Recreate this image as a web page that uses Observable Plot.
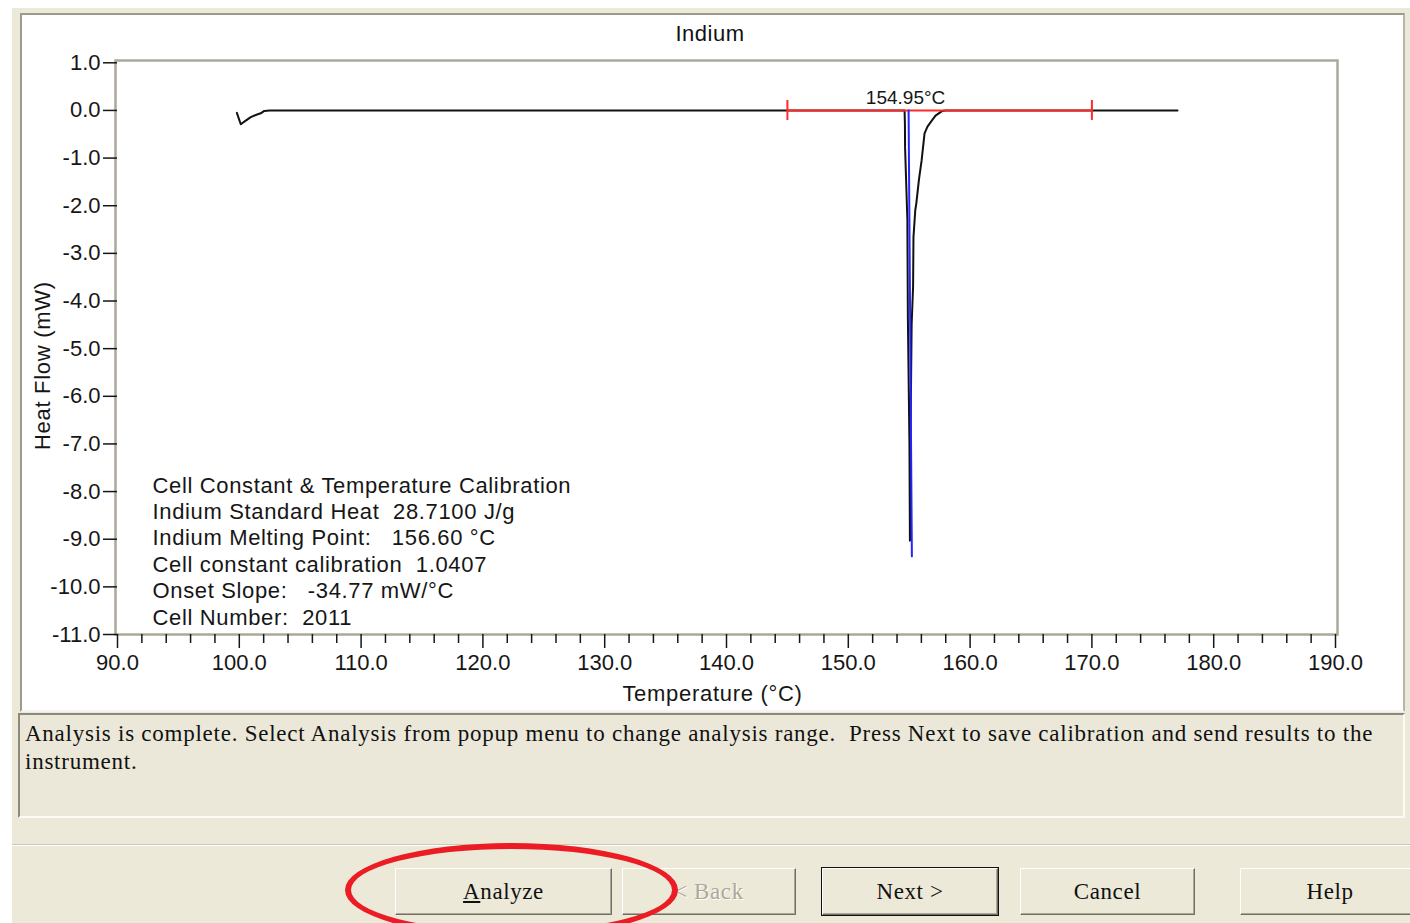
<!DOCTYPE html>
<html>
<head>
<meta charset="utf-8">
<script src="https://cdn.jsdelivr.net/npm/d3@7"></script>
<script src="https://cdn.jsdelivr.net/npm/@observablehq/plot@0.6"></script>
<style>
  html, body { margin: 0; padding: 0; }
  body { width: 1410px; height: 923px; overflow: hidden; position: relative; background: #fff;
         font-family: "Liberation Sans", Arial, sans-serif; }
  .abs { position: absolute; }
  #window { left: 12px; top: 8px; width: 1398px; height: 915px; background: #ece9d8; }
  #panel { left: 20px; top: 13px; width: 1381px; height: 695px; background: #fff;
           border-top: 2px solid #9c9a8c; border-left: 2px solid #9c9a8c;
           border-right: 2px solid #b9b6a6; border-bottom: 2px solid #f4f3ee; }
  #title { left: 22px; top: 21px; width: 1376px; text-align: center; font-size: 22px; line-height: 26px; color: #111; letter-spacing: 0.5px; }
  #chart { left: 22px; top: 48px; }
  #chart svg text { white-space: pre; }
  #status { left: 18px; top: 713px; width: 1387px; height: 105px; background: #ebe8d9;
            border-top: 2px solid #8d8a7c; border-left: 2px solid #8d8a7c;
            border-right: 2px solid #fbfaf6; border-bottom: 2px solid #fbfaf6;
            font-family: "Liberation Serif", "Times New Roman", serif; font-size: 23px; line-height: 28px;
            letter-spacing: 0.75px; color: #111; white-space: pre; padding: 5px 0 0 5px; box-sizing: border-box; }
  #sep { left: 12px; top: 844px; width: 1398px; height: 1px; background: #cbc8b8; border-bottom: 1px solid #fff; }
  .btn { top: 868px; height: 47px; box-sizing: border-box; background: #ece9d8;
         border-top: 1px solid #fff; border-left: 1px solid #fff;
         border-right: 1px solid #716f64; border-bottom: 1px solid #716f64;
         box-shadow: inset -1px -1px 0 #aca899;
         font-family: "Liberation Serif", "Times New Roman", serif; font-size: 23px; letter-spacing: 0.6px; color: #111;
         display: flex; align-items: center; justify-content: center; }
  .btn.default { outline: 1px solid #111; }
  .btn.disabled { color: #aca899; text-shadow: 1px 1px 0 #fff; }
  #ring { left: 345px; top: 843px; width: 333px; height: 94px; box-sizing: border-box;
          border: 6px solid #ec1c24; border-radius: 50%; }
</style>
</head>
<body>
<div id="window" class="abs"></div>
<div id="panel" class="abs"></div>
<div id="title" class="abs">Indium</div>
<div id="chart" class="abs"></div>
<div id="status" class="abs">Analysis is complete. Select Analysis from popup menu to change analysis range.  Press Next to save calibration and send results to the
instrument.</div>
<div id="sep" class="abs"></div>
<div class="abs btn" style="left:395px;width:217px;"><span><u>A</u>nalyze</span></div>
<div class="abs btn disabled" style="left:622px;width:174px;">&lt; Back</div>
<div class="abs btn default" style="left:822px;width:176px;">Next &gt;</div>
<div class="abs btn" style="left:1020px;width:175px;">Cancel</div>
<div class="abs btn" style="left:1240px;width:180px;">Help</div>
<div id="ring" class="abs"></div>
<script>
// Indium DSC calibration run: temperature (°C) vs heat flow (mW)
const temperature = [
  99.80, 100.12, 100.50, 100.94, 101.40, 101.76, 102.05, 102.50,
  154.62, 154.65, 154.66, 154.85, 154.89, 155.02, 155.06,
  155.08, 155.10, 155.20, 155.32, 155.35, 155.50, 155.58, 155.80,
  156.02, 156.26, 156.50, 156.75, 157.16, 157.72, 158.00, 177.03
];
const heatFlow = [
  -0.05, -0.29, -0.22, -0.14, -0.09, -0.06, -0.01, 0.00,
  0.00, -0.30, -0.77, -2.30, -4.33, -7.00, -9.03,
  -9.00, -7.00, -4.50, -3.69, -2.66, -2.09, -1.96, -1.45,
  -1.05, -0.48, -0.34, -0.25, -0.11, -0.01, 0.00, 0.00
];

// Onset tangent (blue) and its extrapolated onset temperature
const onsetTemperature = [154.95, 155.22];
const onsetHeatFlow = [0.00, -9.36];

// Analysis range (red bar)
const analysisRange = [145, 170];

// Calibration summary
const calibrationLines = [
  "Cell Constant & Temperature Calibration",
  "Indium Standard Heat  28.7100 J/g",
  "Indium Melting Point:   156.60 °C",
  "Cell constant calibration  1.0407",
  "Onset Slope:   -34.77 mW/°C",
  "Cell Number:  2011"
];

// Axis ticks
const temperatureTicks = [90, 100, 110, 120, 130, 140, 150, 160, 170, 180, 190];
const heatFlowTicks = [1, 0, -1, -2, -3, -4, -5, -6, -7, -8, -9, -10, -11];
const minorTemperatureTicks = d3.range(90, 191, 2).filter(t => t % 10 !== 0);

const xTitle = "Temperature (°C)";
const yTitle = "Heat Flow (mW)";

const curve = temperature.map((t, i) => ({t, q: heatFlow[i]}));
const onset = onsetTemperature.map((t, i) => ({t, q: onsetHeatFlow[i]}));
const fmt = d => d.toFixed(1);

const chart = Plot.plot({
  width: 1381,
  height: 660,
  marginLeft: 95,
  marginRight: 68,
  marginTop: 14.3,
  marginBottom: 74,
  x: {domain: [90, 190]},
  y: {domain: [-11, 1]},
  style: {fontFamily: "'Liberation Sans', Arial, sans-serif", fontSize: "22px", color: "#161616", background: "transparent", overflow: "visible"},
  marks: [
    Plot.frame({stroke: "#aca899", strokeWidth: 2.5, insetLeft: -2, insetRight: -2, insetTop: -2.3}),
    Plot.axisY({ticks: heatFlowTicks, tickSize: 14, tickPadding: 3, tickFormat: fmt, label: null, fontSize: 22, strokeWidth: 1.5}),
    Plot.axisX({ticks: temperatureTicks, tickSize: 14, tickPadding: 6, tickFormat: fmt, label: null, fontSize: 22, strokeWidth: 1.5}),
    Plot.axisX({ticks: minorTemperatureTicks, tickSize: 9, tickFormat: () => "", label: null, strokeWidth: 1.5}),
    Plot.text([xTitle], {frameAnchor: "bottom", dx: -14, dy: 66, fontSize: 22}),
    Plot.text([yTitle], {frameAnchor: "left", textAnchor: "middle", dx: -75, dy: 17, rotate: -90, fontSize: 22}),
    Plot.line(curve, {x: "t", y: "q", stroke: "#111", strokeWidth: 2}),
    Plot.ruleY([{x1: analysisRange[0], x2: analysisRange[1], q: 0}], {x1: "x1", x2: "x2", y: "q", stroke: "#ff2a2a", strokeWidth: 2}),
    Plot.ruleX(analysisRange, {x: d => d, y1: 0, y2: 0, insetTop: -10, insetBottom: -10, stroke: "#ff2a2a", strokeWidth: 2}),
    Plot.line(onset, {x: "t", y: "q", stroke: "#2424ff", strokeWidth: 2}),
    Plot.text([onset[0]], {x: "t", y: "q", text: d => `${d.t.toFixed(2)}°C`, dx: -3, dy: -13, fontSize: 19}),
    Plot.text([calibrationLines.join("\n")], {frameAnchor: "bottom-left", dx: 35, dy: -10, lineAnchor: "bottom", lineHeight: 1.2, fontSize: 22})
  ]
});

// Slightly wider letter spacing for the axis titles and the calibration summary
d3.select(chart).selectAll("text").each(function () {
  const s = this.textContent;
  if (s === xTitle || s === yTitle) this.setAttribute("letter-spacing", "0.7px");
  else if (s.startsWith(calibrationLines[0])) this.setAttribute("letter-spacing", "0.65px");
});

document.getElementById("chart").appendChild(chart);
</script>
</body>
</html>
